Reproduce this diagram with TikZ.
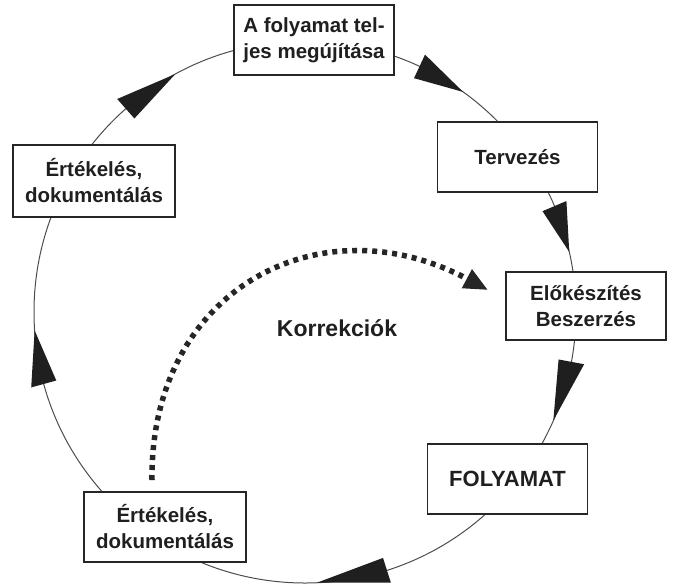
\documentclass[tikz,border=0pt]{standalone}
\usepackage{fontspec}
\setmainfont{Liberation Sans}
\usetikzlibrary{calc,arrows.meta}
\newcommand{\cyclehead}[2]{\fill[headfill] ($(C)+(#1:258)$) -- ($(C)+(#1:284)$) -- ($(C)+(#2:271)$) -- cycle;}
\begin{document}
\begin{tikzpicture}[x=1pt,y=-1pt,
  box/.style={draw=black!85, line width=1.6pt, fill=white, minimum width=160pt, minimum height=70pt, inner sep=0pt, align=center, font=\fontsize{20.5}{26}\selectfont\bfseries, text=black!88},
  ring/.style={draw=black!70, line width=1pt},
  headfill/.style={fill=black!88},
  corr/.style={draw=black!85, line width=5.5pt, dash pattern=on 5pt off 5pt, -{Triangle[length=24pt,width=20pt]}}]
\useasboundingbox (0,0) rectangle (677,587);
\coordinate (C) at (305,312);
\draw[ring] (C) circle[radius=271];
\cyclehead{-131.4}{-118.6}
\cyclehead{-65}{-54.3}
\cyclehead{-23}{-12.8}
\cyclehead{10.6}{23.6}
\cyclehead{72.4}{87.5}
\cyclehead{164.6}{176.1}
\node[box] (renew) at (314,40) {A folyamat tel-\\jes megújítása};
\node[box] (plan) at (517.5,157) {Tervezés};
\node[box, minimum height=68pt] (prep) at (586,306) {Előkészítés\\Beszerzés};
\node[box, font=\fontsize{22}{26}\selectfont\bfseries] (proc) at (507.5,479) {FOLYAMAT};
\node[box, minimum width=162pt] (evalb) at (165,527) {Értékelés,\\dokumentálás};
\node[box, minimum width=162pt, minimum height=72pt] (evall) at (94,181) {Értékelés,\\dokumentálás};
\node[font=\fontsize{23}{26}\selectfont\bfseries, text=black!88] (korr) at (337,328) {Korrekciók};
\coordinate (cs) at (152,480);
\coordinate (ce) at (488,290);
\draw[corr] (cs) .. controls (150,290) and (320,200) .. (ce);
\end{tikzpicture}
\end{document}
